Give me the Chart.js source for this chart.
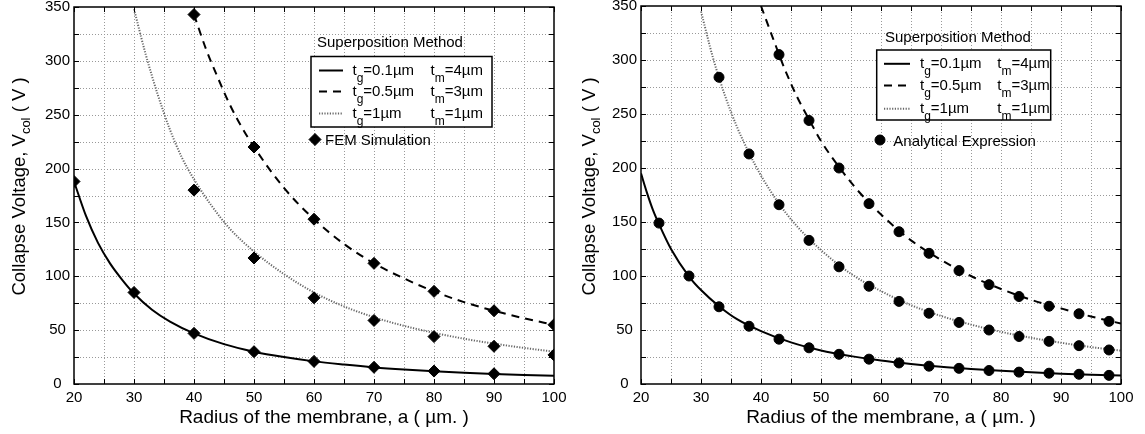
<!DOCTYPE html>
<html>
<head>
<meta charset="utf-8">
<title>Collapse voltage vs membrane radius</title>
<script src="https://cdn.jsdelivr.net/npm/chart.js@4.4.0/dist/chart.umd.min.js"></script>
<style>
html, body { margin: 0; padding: 0; background: #fff; }
#wrap { position: relative; width: 1145px; height: 434px; }
.panel { position: absolute; top: 0; height: 434px; }
</style>
</head>
<body>
<div id="wrap">
  <div class="panel" style="left:0;width:572px"><canvas id="chartFem"></canvas></div>
  <div class="panel" style="left:572px;width:573px"><canvas id="chartAna"></canvas></div>
</div>
<script>
// ---------- data ----------
// left panel: superposition method curves
var femSolidX = [20, 22, 24, 26, 28, 30, 33, 36, 40, 45, 50, 55, 60, 65, 70, 75, 80, 85, 90, 95, 100];
var femSolidY = [188, 156, 131, 112, 97, 84, 69, 58, 47, 37, 30, 25, 21, 18, 15.4, 13.4, 11.8, 10.4, 9.3, 8.4, 7.6];
var femDashX = [40, 42, 44, 46, 48, 50, 55, 60, 65, 70, 75, 80, 85, 90, 95, 100];
var femDashY = [343, 311, 284, 259, 238, 220, 182, 153, 130, 112, 98, 86, 76, 68, 61, 55];
var femDotX = [30, 32, 34, 36, 38, 40, 43, 46, 50, 55, 60, 65, 70, 75, 80, 85, 90, 95, 100];
var femDotY = [348, 305, 268, 236, 210, 190, 165, 144, 123, 102, 85, 72, 62, 54, 47.5, 42, 37.5, 33.5, 30];

// left panel: FEM simulation points
var femPtSolidX = [20, 30, 40, 50, 60, 70, 80, 90];
var femPtSolidY = [188, 85, 47, 30, 21, 15.5, 12, 9.5];
var femPtDashX = [40, 50, 60, 70, 80, 90, 100];
var femPtDashY = [343, 220, 153, 112, 86, 68, 55];
var femPtDotX = [40, 50, 60, 70, 80, 90, 100];
var femPtDotY = [180, 117, 80, 59, 44, 35, 27];

// right panel: superposition method curves
var anaSolidX = [20, 21, 22, 23, 25, 28, 30, 33, 36, 40, 45, 50, 55, 60, 65, 70, 75, 80, 85, 90, 95, 100];
var anaSolidY = [195, 177, 161, 148, 125, 99.5, 87, 72, 60, 49, 38.5, 31, 25.8, 21.7, 18.5, 15.9, 13.9, 12.2, 10.8, 9.6, 8.6, 7.8];
var anaDashX = [40, 42, 44, 46, 48, 50, 53, 56, 60, 65, 70, 75, 80, 85, 90, 95, 100];
var anaDashY = [350, 320, 291, 266, 245, 225, 201, 180, 157, 133, 115, 100, 88, 78, 70, 62.5, 56];
var anaDotX = [30, 32, 34, 36, 38, 40, 43, 46, 50, 55, 60, 65, 70, 75, 80, 85, 90, 95, 100];
var anaDotY = [345, 302, 267, 238, 214, 193, 167, 146, 124, 102, 86, 73, 63, 55, 48.3, 42.8, 38.2, 34.2, 30.9];

// right panel: analytical expression points
var anaPtSolidX = [23, 28, 33, 38, 43, 48, 53, 58, 63, 68, 73, 78, 83, 88, 93, 98];
var anaPtSolidY = [149, 100, 71.5, 53.5, 41.5, 33.5, 27.5, 23, 19.5, 16.5, 14.5, 12.5, 11, 10, 9, 8];
var anaPtDotX = [33, 38, 43, 48, 53, 58, 63, 68, 73, 78, 83, 88, 93, 98];
var anaPtDotY = [284, 213, 166, 133, 108.5, 90.5, 76.5, 65.5, 57, 50, 44, 39.5, 35.5, 31.5];
var anaPtDashX = [43, 48, 53, 58, 63, 68, 73, 78, 83, 88, 93, 98];
var anaPtDashY = [305, 244, 200, 167, 141, 121, 105, 92, 81, 72, 65, 58];

// legend text
var legendG = ['=0.1\u00b5m', '=0.5\u00b5m', '=1\u00b5m'];
var legendM = ['=4\u00b5m', '=3\u00b5m', '=1\u00b5m'];

var FONT = '"Liberation Sans", Arial, Helvetica, sans-serif';
Chart.defaults.font.family = FONT;
Chart.defaults.font.size = 15;
Chart.defaults.color = '#000';

function pts(xs, ys) {
    return xs.map(function (x, i) { return { x: x, y: ys[i] }; });
}

// line styles for the three geometries
var styles = [
    { color: '#000', width: 2, dash: [] },
    { color: '#000', width: 2, dash: [8, 6] },
    { color: '#666', width: 2, dash: [1.2, 1.5] }
];

// curves get order 1, markers order 0 so the markers sit on top
function curve(xs, ys, s) {
    return {
        data: pts(xs, ys), showLine: true, pointRadius: 0, order: 1,
        borderColor: s.color, borderWidth: s.width, borderDash: s.dash,
        cubicInterpolationMode: 'monotone', fill: false
    };
}

function marks(xs, ys, style, r) {
    return {
        data: pts(xs, ys), showLine: false, pointStyle: style, order: 0,
        pointRadius: r, pointHoverRadius: r,
        backgroundColor: '#000', borderColor: '#000', borderWidth: 1
    };
}

// text with a subscript piece: main, sub, rest
function subText(ctx, x, y, main, sub, rest, size, subSize, drop) {
    ctx.font = size + 'px ' + FONT;
    ctx.fillText(main, x, y);
    x += ctx.measureText(main).width;
    ctx.font = subSize + 'px ' + FONT;
    ctx.fillText(sub, x, y + drop);
    x += ctx.measureText(sub).width;
    ctx.font = size + 'px ' + FONT;
    ctx.fillText(rest, x, y);
}

function subWidth(ctx, main, sub, rest, size, subSize) {
    ctx.font = size + 'px ' + FONT;
    var w = ctx.measureText(main).width + ctx.measureText(rest).width;
    ctx.font = subSize + 'px ' + FONT;
    return w + ctx.measureText(sub).width;
}

// grid, frame, inward ticks, legend and axis titles
var panelDecor = {
    id: 'panelDecor',
    beforeDatasetsDraw: function (chart) {
        var ctx = chart.ctx, a = chart.chartArea;
        var xs = chart.scales.x, ys = chart.scales.y;
        ctx.save();
        ctx.strokeStyle = '#999';
        ctx.lineWidth = 1;
        ctx.setLineDash([1, 2]);
        xs.ticks.forEach(function (t) {
            if (t.value <= xs.min || t.value >= xs.max) return;
            var px = Math.round(xs.getPixelForValue(t.value)) + 0.5;
            ctx.beginPath(); ctx.moveTo(px, a.top); ctx.lineTo(px, a.bottom); ctx.stroke();
        });
        ys.ticks.forEach(function (t) {
            if (t.value <= ys.min || t.value >= ys.max) return;
            var py = Math.round(ys.getPixelForValue(t.value)) + 0.5;
            ctx.beginPath(); ctx.moveTo(a.left, py); ctx.lineTo(a.right, py); ctx.stroke();
        });
        ctx.restore();
    },
    afterDatasetsDraw: function (chart, args, o) {
        var ctx = chart.ctx, a = chart.chartArea;
        var xs = chart.scales.x, ys = chart.scales.y;
        var ds = chart.data.datasets;
        ctx.save();
        ctx.setLineDash([]);
        ctx.strokeStyle = '#000';

        // inward tick marks on all four sides
        ctx.lineWidth = 1;
        xs.ticks.forEach(function (t) {
            var px = Math.round(xs.getPixelForValue(t.value)) + 0.5;
            ctx.beginPath();
            ctx.moveTo(px, a.bottom); ctx.lineTo(px, a.bottom - 5);
            ctx.moveTo(px, a.top); ctx.lineTo(px, a.top + 5);
            ctx.stroke();
        });
        ys.ticks.forEach(function (t) {
            var py = Math.round(ys.getPixelForValue(t.value)) + 0.5;
            ctx.beginPath();
            ctx.moveTo(a.left, py); ctx.lineTo(a.left + 5, py);
            ctx.moveTo(a.right, py); ctx.lineTo(a.right - 5, py);
            ctx.stroke();
        });

        // frame
        ctx.lineWidth = 1.5;
        ctx.strokeRect(a.left, a.top, a.right - a.left, a.bottom - a.top);

        // legend
        ctx.fillStyle = '#000';
        ctx.textAlign = 'left';
        ctx.textBaseline = 'alphabetic';
        ctx.font = '15px ' + FONT;
        ctx.fillText('Superposition Method', o.headX, o.headY);

        ctx.fillStyle = '#fff';
        ctx.fillRect(o.boxX, o.boxY, o.boxW, o.boxH);
        ctx.lineWidth = 1.5;
        ctx.strokeStyle = '#000';
        ctx.strokeRect(o.boxX, o.boxY, o.boxW, o.boxH);

        for (var i = 0; i < 3; i++) {
            var ry = o.rows[i];
            var d = ds[i];
            ctx.save();
            ctx.strokeStyle = d.borderColor;
            ctx.lineWidth = d.borderWidth;
            ctx.setLineDash(d.borderDash);
            ctx.beginPath();
            ctx.moveTo(o.lineX0, ry + 0.5);
            ctx.lineTo(o.lineX1, ry + 0.5);
            ctx.stroke();
            ctx.restore();
            ctx.fillStyle = '#000';
            subText(ctx, o.col1, ry + 4.5, 't', 'g', legendG[i], 15, 12, 7);
            subText(ctx, o.col2, ry + 4.5, 't', 'm', legendM[i], 15, 12, 7);
        }

        // marker entry
        var pd = ds[3];
        ctx.fillStyle = '#000';
        ctx.strokeStyle = '#000';
        ctx.lineWidth = 1;
        Chart.helpers.drawPoint(ctx, { pointStyle: pd.pointStyle, radius: pd.pointRadius, rotation: 0, borderWidth: 1 }, o.markX, o.markY);
        ctx.font = '15px ' + FONT;
        ctx.fillText(o.markText, o.markTextX, o.markY + 5.5);

        // axis titles
        ctx.font = '19px ' + FONT;
        ctx.textAlign = 'center';
        ctx.fillText('Radius of the membrane, a ( \u00b5m. )', (a.left + a.right) / 2 + 10, 423);

        ctx.translate(o.yTitleX, o.yTitleY);
        ctx.rotate(-Math.PI / 2);
        ctx.textAlign = 'left';
        var w = subWidth(ctx, 'Collapse Voltage, V', 'col', ' ( V )', 18.5, 13);
        subText(ctx, -w / 2, 0, 'Collapse Voltage, V', 'col', ' ( V )', 18.5, 13, 5);
        ctx.restore();
    }
};

function makeOptions(yWidth, padRight, decor) {
    return {
        responsive: true,
        maintainAspectRatio: false,
        animation: false,
        layout: { padding: { top: 6, right: padRight, left: 0, bottom: 0 } },
        plugins: {
            legend: { display: false },
            tooltip: { enabled: false },
            panelDecor: decor
        },
        scales: {
            x: {
                type: 'linear', min: 20, max: 100,
                grid: { display: false, drawTicks: false },
                border: { display: false },
                ticks: {
                    stepSize: 5, autoSkip: false, maxRotation: 0, padding: 5,
                    callback: function (v) { return v % 10 === 0 ? String(v) : ''; }
                },
                afterFit: function (s) { s.height = 50; s.paddingLeft = 0; s.paddingRight = 0; }
            },
            y: {
                type: 'linear', min: 0, max: 350,
                grid: { display: false, drawTicks: false },
                border: { display: false },
                ticks: {
                    stepSize: 25, autoSkip: false, padding: 4,
                    callback: function (v) {
                        if (v % 50 !== 0) return '';
                        if (v < 10) return v + '  ';
                        if (v < 100) return v + ' ';
                        return String(v);
                    }
                },
                afterFit: function (s) { s.width = yWidth; s.paddingTop = 0; s.paddingBottom = 0; }
            }
        }
    };
}

// left panel: superposition vs FEM simulation
new Chart(document.getElementById('chartFem').getContext('2d'), {
    type: 'scatter',
    data: {
        datasets: [
            curve(femSolidX, femSolidY, styles[0]),
            curve(femDashX, femDashY, styles[1]),
            curve(femDotX, femDotY, styles[2]),
            marks(femPtSolidX, femPtSolidY, 'rectRot', 6),
            marks(femPtDashX, femPtDashY, 'rectRot', 6),
            marks(femPtDotX, femPtDotY, 'rectRot', 6)
        ]
    },
    options: makeOptions(74, 18, {
        headX: 317, headY: 47,
        boxX: 311, boxY: 56.5, boxW: 181, boxH: 70.5,
        rows: [70, 91, 113], lineX0: 319, lineX1: 343, col1: 352.5, col2: 430.5,
        markX: 315, markY: 139.5, markText: 'FEM Simulation', markTextX: 325,
        yTitleX: 25, yTitleY: 186.5
    }),
    plugins: [panelDecor]
});

// right panel: superposition vs analytical expression
new Chart(document.getElementById('chartAna').getContext('2d'), {
    type: 'scatter',
    data: {
        datasets: [
            curve(anaSolidX, anaSolidY, styles[0]),
            curve(anaDashX, anaDashY, styles[1]),
            curve(anaDotX, anaDotY, styles[2]),
            marks(anaPtSolidX, anaPtSolidY, 'circle', 5),
            marks(anaPtDashX, anaPtDashY, 'circle', 5),
            marks(anaPtDotX, anaPtDotY, 'circle', 5)
        ]
    },
    options: makeOptions(69, 24, {
        headX: 313, headY: 41.7,
        boxX: 304.7, boxY: 50, boxW: 174, boxH: 70,
        rows: [63.3, 85, 108.3], lineX0: 312, lineX1: 338, col1: 348, col2: 425.3,
        markX: 308, markY: 140, markText: 'Analytical Expression', markTextX: 321.3,
        yTitleX: 23, yTitleY: 186.5
    }),
    plugins: [panelDecor]
});
</script>
</body>
</html>
